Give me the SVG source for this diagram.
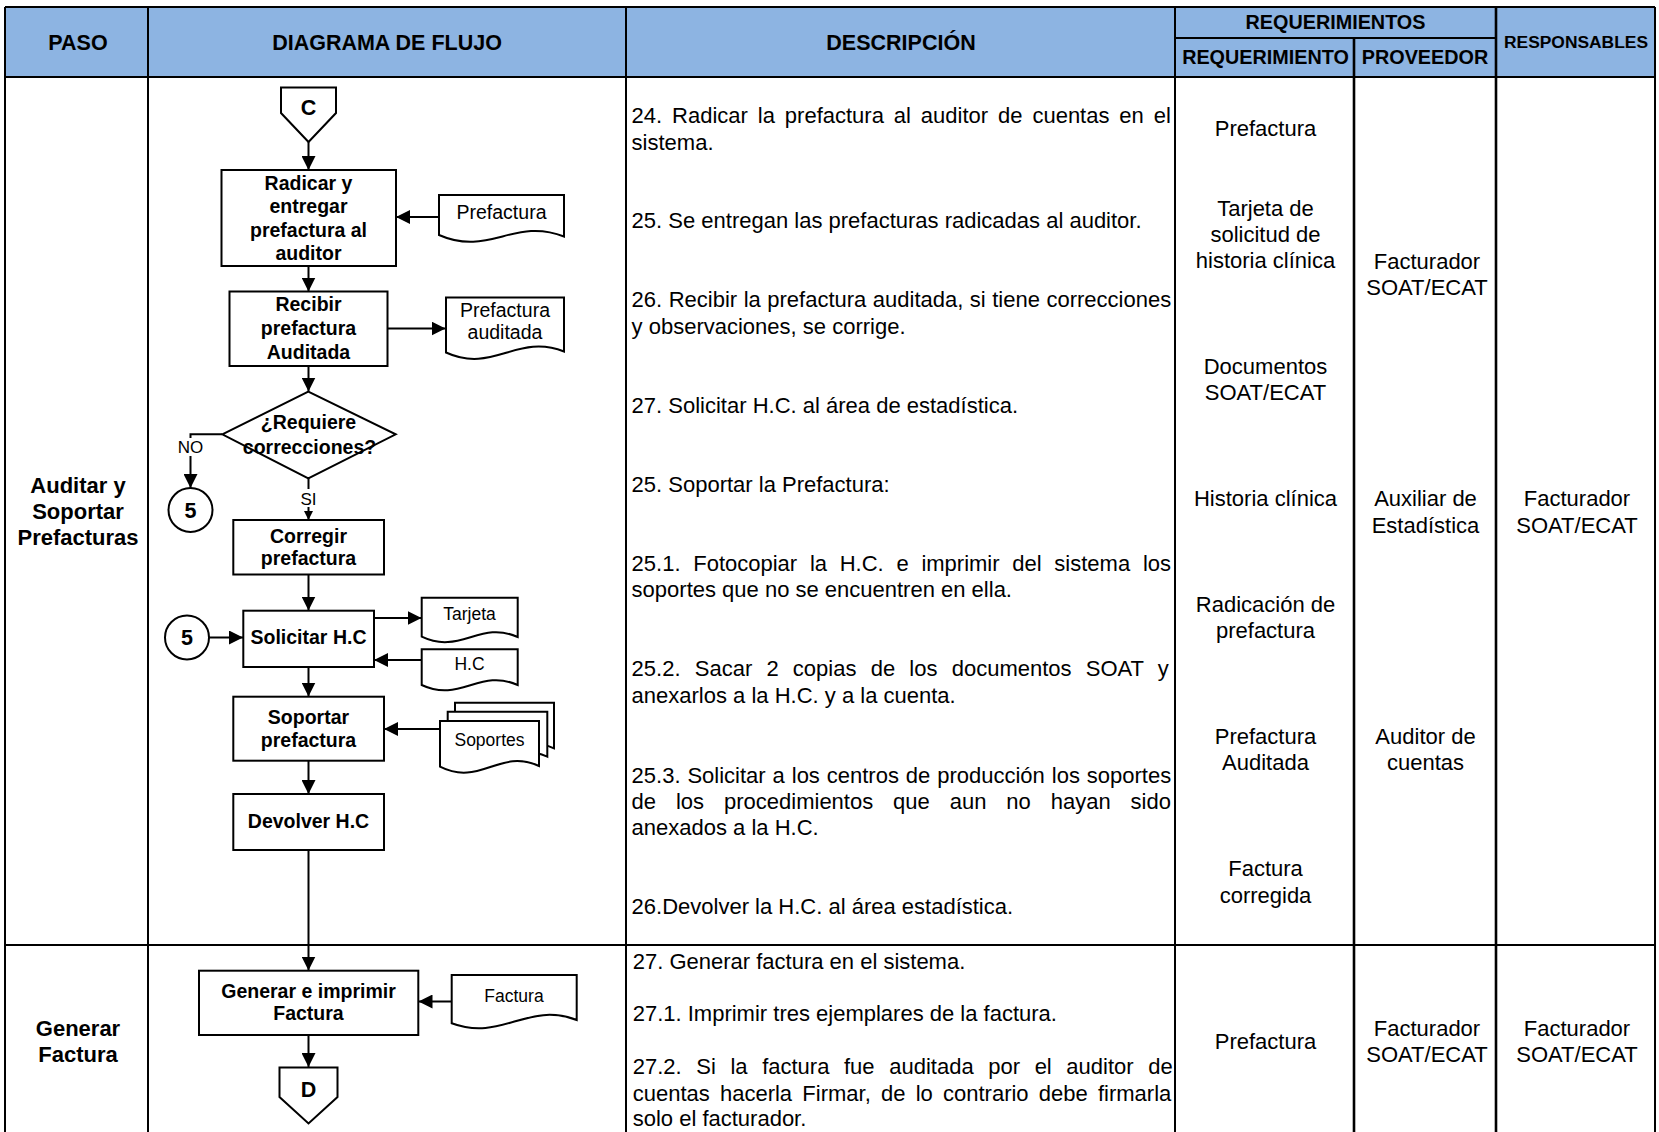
<svg xmlns="http://www.w3.org/2000/svg" width="1659" height="1132" viewBox="0 0 1659 1132">
  <defs>
    <marker id="arrow" markerUnits="userSpaceOnUse" viewBox="0 0 14 14" markerWidth="14" markerHeight="14" refX="14" refY="7" orient="auto">
      <path d="M0,0 L14,7 L0,14 z" fill="#000"/>
    </marker>
    <marker id="arrowSmall" markerUnits="userSpaceOnUse" viewBox="0 0 9 9" markerWidth="9" markerHeight="9" refX="9" refY="4.5" orient="auto">
      <path d="M0,0 L9,4.5 L0,9 z" fill="#000"/>
    </marker>
  </defs>
  <style>
    .grid{stroke:#000;stroke-width:2;fill:none}
    .gridThick{stroke:#000;stroke-width:2.6;fill:none}
    .hdr{font-family:"Liberation Sans",Arial,sans-serif;font-weight:bold;text-anchor:middle;fill:#000}
    .paso{font:bold 22px "Liberation Sans",Arial,sans-serif;text-anchor:middle;fill:#000}
    .desc{font:22px "Liberation Sans",Arial,sans-serif;fill:#000}
    .cell{font:22px "Liberation Sans",Arial,sans-serif;text-anchor:middle;fill:#000}
    .shape{fill:#fff;stroke:#000;stroke-width:2}
    .lbl{font:bold 19.5px "Liberation Sans",Arial,sans-serif;text-anchor:middle;fill:#000}
    .mark{font:bold 21.5px "Liberation Sans",Arial,sans-serif;text-anchor:middle;fill:#000}
    .doctxt{font:19.5px "Liberation Sans",Arial,sans-serif;text-anchor:middle;fill:#000}
    .doctxtS{font:17.5px "Liberation Sans",Arial,sans-serif;text-anchor:middle;fill:#000}
    .branch{font:17px "Liberation Sans",Arial,sans-serif;text-anchor:middle;fill:#000}
    .conn{stroke:#000;stroke-width:2;fill:none;marker-end:url(#arrow)}
  </style>

  <rect x="0" y="0" width="1659" height="1132" fill="#fff"/>

  <!-- table header -->
  <g id="header">
    <rect x="5" y="7" width="1651" height="70" fill="#8DB4E2"/>
    <text class="hdr" x="78" y="50" font-size="21.5">PASO</text>
    <text class="hdr" x="387" y="50" font-size="21.5">DIAGRAMA DE FLUJO</text>
    <text class="hdr" x="901" y="50" font-size="21.5">DESCRIPCIÓN</text>
    <text class="hdr" x="1335.5" y="29" font-size="19.8">REQUERIMIENTOS</text>
    <text class="hdr" x="1265.5" y="64" font-size="19.8">REQUERIMIENTO</text>
    <text class="hdr" x="1425" y="64" font-size="19.8">PROVEEDOR</text>
    <text class="hdr" x="1576" y="48" font-size="17.4">RESPONSABLES</text>
  </g>

  <!-- table grid -->
  <g id="grid">
    <path class="grid" d="M5,7 H1655 M5,77 H1655 M1175,38 H1496 M5,945 H1655"/>
    <path class="grid" d="M5,7 V1132 M148,7 V1132 M626,7 V1132 M1175,7 V1132 M1655,7 V1132"/>
    <path class="gridThick" d="M1354,38 V1132 M1496,7 V1132"/>
  </g>

  <!-- step names -->
  <g id="pasos">
    <text class="paso" x="78" y="492.5">Auditar y</text>
    <text class="paso" x="78" y="518.5">Soportar</text>
    <text class="paso" x="78" y="544.5">Prefacturas</text>
    <text class="paso" x="78" y="1036">Generar</text>
    <text class="paso" x="78" y="1061.5">Factura</text>
  </g>

  <!-- connectors -->
  <g id="connectors">
    <path class="conn" d="M308.5,142 V170"/>
    <path class="conn" d="M439,217 H396"/>
    <path class="conn" d="M308.5,266 V291.5"/>
    <path class="conn" d="M387,328.5 H445.5"/>
    <path class="conn" d="M308.5,366 V391.5"/>
    <path class="conn" d="M222,434.3 H190.5 V488"/>
    <path class="conn" d="M308.5,478.3 V520" style="marker-end:url(#arrowSmall)"/>
    <path class="conn" d="M308.5,574.5 V610.5"/>
    <path class="conn" d="M209,637.5 H243"/>
    <path class="conn" d="M374,618 H421.5"/>
    <path class="conn" d="M421.5,660 H374"/>
    <path class="conn" d="M308.5,667 V696.5"/>
    <path class="conn" d="M440,729 H384"/>
    <path class="conn" d="M308.5,761 V794"/>
    <path class="conn" d="M308.5,850 V970.5"/>
    <path class="conn" d="M451.5,1001.5 H418.5"/>
    <path class="conn" d="M308.5,1035 V1067"/>
    <!-- branch labels sit on the lines -->
    <rect x="176" y="438" width="29" height="18" fill="#fff"/>
    <text class="branch" x="190.5" y="452.5">NO</text>
    <rect x="298" y="489" width="21" height="18" fill="#fff"/>
    <text class="branch" x="308.5" y="504.5">SI</text>
  </g>

  <!-- flow nodes -->
  <g id="conector-c">
    <polygon class="shape" points="281,87.5 336,87.5 336,113 308.5,142 281,113"/>
    <text class="mark" x="308.5" y="115">C</text>
  </g>

  <g id="radicar">
    <rect class="shape" x="221.5" y="170" width="174.5" height="96"/>
    <text class="lbl" x="308.5" y="189.5">Radicar y</text>
    <text class="lbl" x="308.5" y="213">entregar</text>
    <text class="lbl" x="308.5" y="236.5">prefactura al</text>
    <text class="lbl" x="308.5" y="260">auditor</text>
  </g>

  <g id="doc-prefactura">
    <path class="shape" d="M439,195 H564 V236.5 C514,217 489,257 439,235 Z"/>
    <text class="doctxt" x="501.5" y="218.5">Prefactura</text>
  </g>

  <g id="recibir">
    <rect class="shape" x="229.5" y="291.5" width="158" height="74.5"/>
    <text class="lbl" x="308.5" y="311">Recibir</text>
    <text class="lbl" x="308.5" y="335">prefactura</text>
    <text class="lbl" x="308.5" y="358.5">Auditada</text>
  </g>

  <g id="doc-prefactura-auditada">
    <path class="shape" d="M446,297.5 H564 V351.5 C517,333 493,374 446,352.5 Z"/>
    <text class="doctxt" x="505" y="317">Prefactura</text>
    <text class="doctxt" x="505" y="338.5">auditada</text>
  </g>

  <g id="decision">
    <polygon class="shape" points="222.3,434.3 308.3,391.7 395.7,434.3 308.3,478.3"/>
    <text class="lbl" x="308.5" y="429">¿Requiere</text>
    <text class="lbl" x="309.5" y="454">correcciones?</text>
  </g>

  <g id="conector-5-salida">
    <circle class="shape" cx="190.5" cy="510" r="22"/>
    <text class="mark" x="190.5" y="517.5">5</text>
  </g>

  <g id="corregir">
    <rect class="shape" x="233.3" y="520" width="150.7" height="54.5"/>
    <text class="lbl" x="308.5" y="542.5">Corregir</text>
    <text class="lbl" x="308.5" y="565">prefactura</text>
  </g>

  <g id="conector-5-entrada">
    <circle class="shape" cx="187" cy="637.5" r="22"/>
    <text class="mark" x="187" y="645">5</text>
  </g>

  <g id="solicitar">
    <rect class="shape" x="243.3" y="610.7" width="130.7" height="56.3"/>
    <text class="lbl" x="308.5" y="643.5">Solicitar H.C</text>
  </g>

  <g id="doc-tarjeta">
    <path class="shape" d="M421.7,597.7 H517.7 V637 C480,620 460,655 421.7,636.7 Z"/>
    <text class="doctxtS" x="469.5" y="620">Tarjeta</text>
  </g>

  <g id="doc-hc">
    <path class="shape" d="M421.7,649.3 H517.7 V685 C480,668 460,703 421.7,685 Z"/>
    <text class="doctxtS" x="469.5" y="669.5">H.C</text>
  </g>

  <g id="soportar">
    <rect class="shape" x="233.3" y="696.7" width="150.7" height="64"/>
    <text class="lbl" x="308.5" y="723.5">Soportar</text>
    <text class="lbl" x="308.5" y="747">prefactura</text>
  </g>

  <g id="doc-soportes">
    <path class="shape" d="M455,702.7 H554 V748.3 C514,730 495,768 455,748.3 Z"/>
    <path class="shape" d="M447.7,711.7 H547.3 V756.7 C507,739 488,777 447.7,757 Z"/>
    <path class="shape" d="M440,721 H539 V766 C499,748 480,787 440,766.7 Z"/>
    <text class="doctxtS" x="489.5" y="746">Soportes</text>
  </g>

  <g id="devolver">
    <rect class="shape" x="233.3" y="794" width="150.7" height="56"/>
    <text class="lbl" x="308.5" y="828">Devolver H.C</text>
  </g>

  <g id="generar">
    <rect class="shape" x="199" y="970.7" width="219.3" height="64.3"/>
    <text class="lbl" x="308.5" y="997.5">Generar e imprimir</text>
    <text class="lbl" x="308.5" y="1020">Factura</text>
  </g>

  <g id="doc-factura">
    <path class="shape" d="M451.7,975 H576.7 V1020 C527,1001 502,1042 451.7,1023.3 Z"/>
    <text class="doctxtS" x="514" y="1002">Factura</text>
  </g>

  <g id="conector-d">
    <polygon class="shape" points="279.5,1067.5 337.5,1067.5 337.5,1097 308.5,1123.5 279.5,1097"/>
    <text class="mark" x="308.5" y="1097">D</text>
  </g>

  <!-- description column -->
  <g id="descripcion">
    <text class="desc" x="631.6" y="123" style="word-spacing:3.8px">24. Radicar la prefactura al auditor de cuentas en el</text>
    <text class="desc" x="631.6" y="149.5">sistema.</text>
    <text class="desc" x="631.6" y="227.5">25. Se entregan las prefacturas radicadas al auditor.</text>
    <text class="desc" x="631.6" y="307" style="word-spacing:0.39px">26. Recibir la prefactura auditada, si tiene correcciones</text>
    <text class="desc" x="631.6" y="333.5">y observaciones, se corrige.</text>
    <text class="desc" x="631.6" y="412.7">27. Solicitar H.C. al área de estadística.</text>
    <text class="desc" x="631.6" y="492">25. Soportar la Prefactura:</text>
    <text class="desc" x="631.6" y="570.5" style="word-spacing:6.6px">25.1. Fotocopiar la H.C. e imprimir del sistema los</text>
    <text class="desc" x="631.6" y="597">soportes que no se encuentren en ella.</text>
    <text class="desc" x="631.6" y="676.3" style="word-spacing:8.1px">25.2. Sacar 2 copias de los documentos SOAT y</text>
    <text class="desc" x="631.6" y="702.7">anexarlos a la H.C. y a la cuenta.</text>
    <text class="desc" x="631.6" y="783" style="word-spacing:0.8px">25.3. Solicitar a los centros de producción los soportes</text>
    <text class="desc" x="631.6" y="808.5" style="word-spacing:13.8px">de los procedimientos que aun no hayan sido</text>
    <text class="desc" x="631.6" y="835">anexados a la H.C.</text>
    <text class="desc" x="631.6" y="914.3">26.Devolver la H.C. al área estadística.</text>
    <text class="desc" x="632.7" y="969.3">27. Generar factura en el sistema.</text>
    <text class="desc" x="632.7" y="1021.2">27.1. Imprimir tres ejemplares de la factura.</text>
    <text class="desc" x="632.7" y="1074" style="word-spacing:8.5px">27.2. Si la factura fue auditada por el auditor de</text>
    <text class="desc" x="632.7" y="1100.5" style="word-spacing:4.1px">cuentas hacerla Firmar, de lo contrario debe firmarla</text>
    <text class="desc" x="632.7" y="1126">solo el facturador.</text>
  </g>

  <!-- requirement column -->
  <g id="requerimiento">
    <text class="cell" x="1265.5" y="135.7">Prefactura</text>
    <text class="cell" x="1265.5" y="215.5">Tarjeta de</text>
    <text class="cell" x="1265.5" y="242">solicitud de</text>
    <text class="cell" x="1265.5" y="268">historia clínica</text>
    <text class="cell" x="1265.5" y="374">Documentos</text>
    <text class="cell" x="1265.5" y="399.5">SOAT/ECAT</text>
    <text class="cell" x="1265.5" y="506">Historia clínica</text>
    <text class="cell" x="1265.5" y="611.5">Radicación de</text>
    <text class="cell" x="1265.5" y="638">prefactura</text>
    <text class="cell" x="1265.5" y="743.5">Prefactura</text>
    <text class="cell" x="1265.5" y="770">Auditada</text>
    <text class="cell" x="1265.5" y="876">Factura</text>
    <text class="cell" x="1265.5" y="902.5">corregida</text>
    <text class="cell" x="1265.5" y="1048.5">Prefactura</text>
  </g>

  <!-- supplier column -->
  <g id="proveedor">
    <text class="cell" x="1427" y="268.5">Facturador</text>
    <text class="cell" x="1427" y="294.5">SOAT/ECAT</text>
    <text class="cell" x="1425.5" y="506">Auxiliar de</text>
    <text class="cell" x="1425.5" y="532.5">Estadística</text>
    <text class="cell" x="1425.5" y="743.5">Auditor de</text>
    <text class="cell" x="1425.5" y="770">cuentas</text>
    <text class="cell" x="1427" y="1036">Facturador</text>
    <text class="cell" x="1427" y="1061.5">SOAT/ECAT</text>
  </g>

  <!-- responsible column -->
  <g id="responsables">
    <text class="cell" x="1577" y="506">Facturador</text>
    <text class="cell" x="1577" y="532.5">SOAT/ECAT</text>
    <text class="cell" x="1577" y="1036">Facturador</text>
    <text class="cell" x="1577" y="1061.5">SOAT/ECAT</text>
  </g>
</svg>
